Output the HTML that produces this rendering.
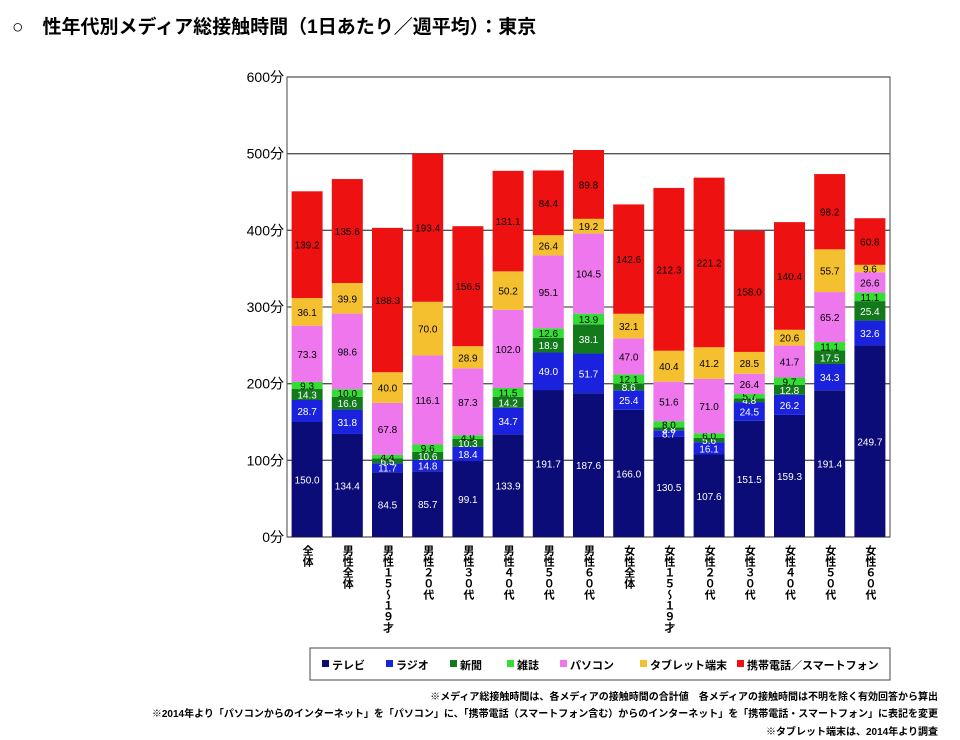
<!DOCTYPE html>
<html><head><meta charset="utf-8"><style>
body{margin:0;background:#fff;font-family:"Liberation Sans","Noto Sans CJK JP",sans-serif;}
#wrap{position:relative;width:960px;height:740px;overflow:hidden;}
</style></head><body>
<div id="wrap">
<svg id="c" width="960" height="740" xmlns="http://www.w3.org/2000/svg">
<text x="12" y="33" font-size="19" font-weight="bold" font-family="Liberation Sans, Noto Sans CJK JP, sans-serif">○　性年代別メディア総接触時間（1日あたり／週平均）：東京</text>
</svg>
</div>
<script>
const categories=["全体","男性全体","男性１５～１９才","男性２０代","男性３０代","男性４０代","男性５０代","男性６０代","女性全体","女性１５～１９才","女性２０代","女性３０代","女性４０代","女性５０代","女性６０代"];
const seriesNames=["テレビ","ラジオ","新聞","雑誌","パソコン","タブレット端末","携帯電話／スマートフォン"];
const tv=[150.0,134.4,84.5,85.7,99.1,133.9,191.7,187.6,166.0,130.5,107.6,151.5,159.3,191.4,249.7];
const radio=[28.7,31.8,11.7,14.8,18.4,34.7,49.0,51.7,25.4,8.7,16.1,24.5,26.2,34.3,32.6];
const newspaper=[14.3,16.6,6.5,10.6,10.3,14.2,18.9,38.1,8.6,3.8,5.6,4.8,12.8,17.5,25.4];
const magazine=[9.3,10.0,4.4,9.6,4.9,11.5,12.6,13.9,12.1,8.0,6.0,5.7,9.7,11.1,11.1];
const pc=[73.3,98.6,67.8,116.1,87.3,102.0,95.1,104.5,47.0,51.6,71.0,26.4,41.7,65.2,26.6];
const tablet=[36.1,39.9,40.0,70.0,28.9,50.2,26.4,19.2,32.1,40.4,41.2,28.5,20.6,55.7,9.6];
const mobile=[139.2,135.6,188.3,193.4,156.5,131.1,84.4,89.8,142.6,212.3,221.2,158.0,140.4,98.2,60.8];
const yTicks=[0,100,200,300,400,500,600];

const series=[tv,radio,newspaper,magazine,pc,tablet,mobile];
const colors=["#0c0c78","#1a22dd","#137a1c","#33dd33","#ee77ee","#f5c030","#ee1111"];
const txtCol=["#fff","#fff","#fff","#000","#000","#000","#000"];
const NS="http://www.w3.org/2000/svg";
const svg=document.getElementById('c');
const L=287,R=890,T=77,B=537;
const y=v=>B-(v/600)*(B-T);
const slot=(R-L)/categories.length;
const x=i=>L+slot*i+slot/2;
const bw=31;
function el(t,a){const e=document.createElementNS(NS,t);for(const k in a)e.setAttribute(k,a[k]);svg.appendChild(e);return e;}
const bg=el('rect',{x:L,y:T,width:R-L,height:B-T,fill:'#fff',stroke:'#444','stroke-width':1});


yTicks.forEach(t=>{
  const g=el('line',{x1:L,x2:R,y1:y(t),y2:y(t),stroke:'#555','stroke-width':1.3});
  
  
  const lb=el('text',{x:L-3,y:y(t)+5,'text-anchor':'end','font-size':14});
  
  
  lb.textContent=t+'分';
});
categories.forEach((c,i)=>{
  let acc=0;
  series.forEach((s,k)=>{
    const v=s[i];
    const r=el('rect',{x:x(i)-bw/2,y:y(acc+v),width:bw,height:y(acc)-y(acc+v),fill:colors[k]});
    
    
    const lt=el('text',{x:x(i),y:(y(acc)+y(acc+v))/2+4,'text-anchor':'middle','font-size':10,fill:txtCol[k]});
    
    
    lt.textContent=v.toFixed(1);
    acc+=v;
  });
  const xl=el('text',{x:x(i),y:545,'font-size':11,'font-weight':'bold','writing-mode':'vertical-rl','glyph-orientation-vertical':0});
  
  
  xl.textContent=c;
});
const lg=el('rect',{x:310,y:648,width:580,height:32,fill:'#fff',stroke:'#444'});


const lx=[322,386,450,507,560,640,737];
seriesNames.forEach((n,k)=>{
  const s=el('rect',{x:lx[k],y:660,width:7,height:7,fill:colors[k]});
  
  
  const t=el('text',{x:lx[k]+10,y:669,'font-size':11,'font-weight':'bold'});
  
  
  t.textContent=n;
});
const notes=[["※メディア総接触時間は、各メディアの接触時間の合計値　各メディアの接触時間は不明を除く有効回答から算出",700],["※2014年より「パソコンからのインターネット」を「パソコン」に、「携帯電話（スマートフォン含む）からのインターネット」を「携帯電話・スマートフォン」に表記を変更",717],["※タブレット端末は、2014年より調査",735]];
notes.forEach(([s,yy])=>{
  const t=el('text',{x:938,y:yy,'text-anchor':'end','font-size':10,'font-weight':'bold'});
  
  
  t.textContent=s;
});
</script>
</body></html>
